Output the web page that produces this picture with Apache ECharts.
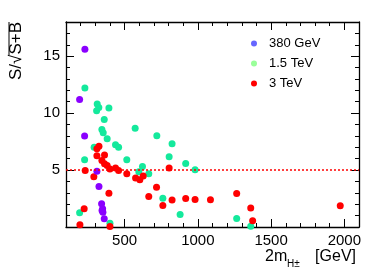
<!DOCTYPE html>
<html><head><meta charset="utf-8">
<script src="https://cdn.jsdelivr.net/npm/echarts@6/dist/echarts.min.js"></script>
<style>html,body{margin:0;padding:0;background:#fff}#c{width:390px;height:277px}</style>
</head><body><div id="c"></div>
<script>
// ---- data ----
const seriesNames = ['380 GeV', '1.5 TeV', '3 TeV'];
const mass380 = [193, 229, 227, 311, 325, 343, 350, 352, 346, 361];
const sig380  = [11.2, 15.6, 8.0, 4.9, 3.56, 2.05, 1.6, 1.3, 1.45, 0.72];
const mass1500 = [193, 227, 229, 292, 309, 313, 324, 393, 361, 345, 354, 381, 438, 459, 515, 572, 597, 622, 665, 720, 761, 804, 824, 879, 917, 981, 1265, 1361, 400];
const sig1500  = [1.25, 5.9, 12.2, 7.0, 10.2, 10.8, 10.5, 10.45, 9.45, 8.57, 8.28, 7.75, 7.23, 7.0, 5.9, 8.66, 4.85, 5.32, 4.68, 8.02, 2.53, 6.17, 7.3, 1.1, 5.58, 5.03, 0.75, 0.07, 0.32];
const mass3000 = [195, 224, 231, 290, 311, 311, 325, 345, 363, 363, 381, 400, 438, 459, 393, 400, 515, 575, 604, 627, 665, 718, 761, 804, 824, 917, 981, 1086, 1265, 1361, 1374, 1972];
const sig3000  = [0.2, 1.6, 4.97, 4.41, 6.26, 6.88, 7.08, 5.85, 6.32, 5.56, 5.41, 5.09, 5.17, 4.97, 2.97, 0.05, 4.68, 4.3, 4.15, 4.47, 2.68, 3.5, 1.89, 5.17, 2.36, 2.5, 2.42, 2.39, 2.95, 1.66, 0.54, 1.86];
const xTickLabels = [500, 1000, 1500, 2000];
const yTickLabels = [5, 10, 15];
const threshold = 5;

const F = '"Liberation Sans", Arial, Helvetica, sans-serif';
const X0 = 100, X1 = 2100, Y0 = 0, Y1 = 18;
const zip = (a, b) => a.map((v, i) => [v, b[i]]);
const lineCol = '#000';

function xAx(pos, major) {
  return {
    type: 'value', position: pos, min: X0, max: X1,
    interval: major ? undefined : 100,
    axisLine: { show: !major, onZero: false, lineStyle: { color: lineCol, width: 1.3 } },
    axisTick: major
      ? { show: true, inside: true, length: 8, customValues: xTickLabels, lineStyle: { color: lineCol, width: 1 } }
      : { show: true, inside: true, length: 4, lineStyle: { color: lineCol, width: 1 } },
    axisLabel: (pos === 'bottom' && !major)
      ? { show: true, fontSize: 15, fontFamily: F, color: '#000', margin: 6,
          formatter: v => (xTickLabels.indexOf(v) >= 0 ? String(v) : '') }
      : { show: false },
    splitLine: { show: false }
  };
}
function yAx(pos, major) {
  return {
    type: 'value', position: pos, min: Y0, max: Y1,
    interval: major ? undefined : 1,
    axisLine: { show: !major, onZero: false, lineStyle: { color: lineCol, width: 1.3 } },
    axisTick: major
      ? { show: true, inside: true, length: 8, customValues: yTickLabels, lineStyle: { color: lineCol, width: 1 } }
      : { show: true, inside: true, length: 4, lineStyle: { color: lineCol, width: 1 } },
    axisLabel: (pos === 'left' && !major)
      ? { show: true, fontSize: 15, fontFamily: F, color: '#000', margin: 6,
          formatter: v => (yTickLabels.indexOf(v) >= 0 ? String(v) : '') }
      : { show: false },
    splitLine: { show: false }
  };
}

const chart = echarts.init(document.getElementById('c'), null, { renderer: 'canvas' });
chart.setOption({
  animation: false,
  backgroundColor: '#fff',
  grid: { left: 66, right: 31, top: 22, bottom: 50, containLabel: false },
  xAxis: [xAx('bottom', false), xAx('bottom', true), xAx('top', false), xAx('top', true)],
  yAxis: [yAx('left', false), yAx('left', true), yAx('right', false), yAx('right', true)],
  legend: {
    orient: 'vertical', left: 246, top: 32, itemWidth: 20, itemHeight: 6, itemGap: 7,
    icon: 'circle',
    textStyle: { fontSize: 13, fontFamily: F, color: '#000' },
    data: [
      { name: seriesNames[0], itemStyle: { color: '#6666ff' } },
      { name: seriesNames[1], itemStyle: { color: '#99ff99' } },
      { name: seriesNames[2], itemStyle: { color: '#ff0000' } }
    ]
  },
  series: [
    { type: 'scatter', name: seriesNames[1], data: zip(mass1500, sig1500), symbolSize: 7,
      itemStyle: { color: '#14e99c', opacity: 1 }, xAxisIndex: 0, yAxisIndex: 0 },
    { type: 'scatter', name: seriesNames[2], data: zip(mass3000, sig3000), symbolSize: 7,
      itemStyle: { color: '#ff0000', opacity: 1 }, xAxisIndex: 0, yAxisIndex: 0,
      markLine: { silent: true, symbol: 'none', label: { show: false },
        lineStyle: { color: '#ff0000', type: [2, 2], width: 1.5 },
        data: [{ yAxis: threshold }] } },
    { type: 'scatter', name: seriesNames[0], data: zip(mass380, sig380), symbolSize: 7,
      itemStyle: { color: '#8a00ff', opacity: 1 }, xAxisIndex: 0, yAxisIndex: 0 }
  ],
  graphic: [
    { type: 'text', x: 16, y: 22, rotation: Math.PI / 2,
      style: { text: 'S/√S+B', font: '17px ' + F, fill: '#000', align: 'right', verticalAlign: 'middle' } },
    { type: 'line', shape: { x1: 9, y1: 22, x2: 9, y2: 55 }, style: { stroke: '#000', lineWidth: 1 } },
    { type: 'text', x: 265, y: 257, style: { text: '2m', font: '16px ' + F, fill: '#000', align: 'left', verticalAlign: 'middle' } },
    { type: 'text', x: 287, y: 264, style: { text: 'H±', font: '10px ' + F, fill: '#000', align: 'left', verticalAlign: 'middle' } },
    { type: 'text', x: 356, y: 257, style: { text: '[GeV]', font: '16px ' + F, fill: '#000', align: 'right', verticalAlign: 'middle' } }
  ]
});
</script></body></html>
